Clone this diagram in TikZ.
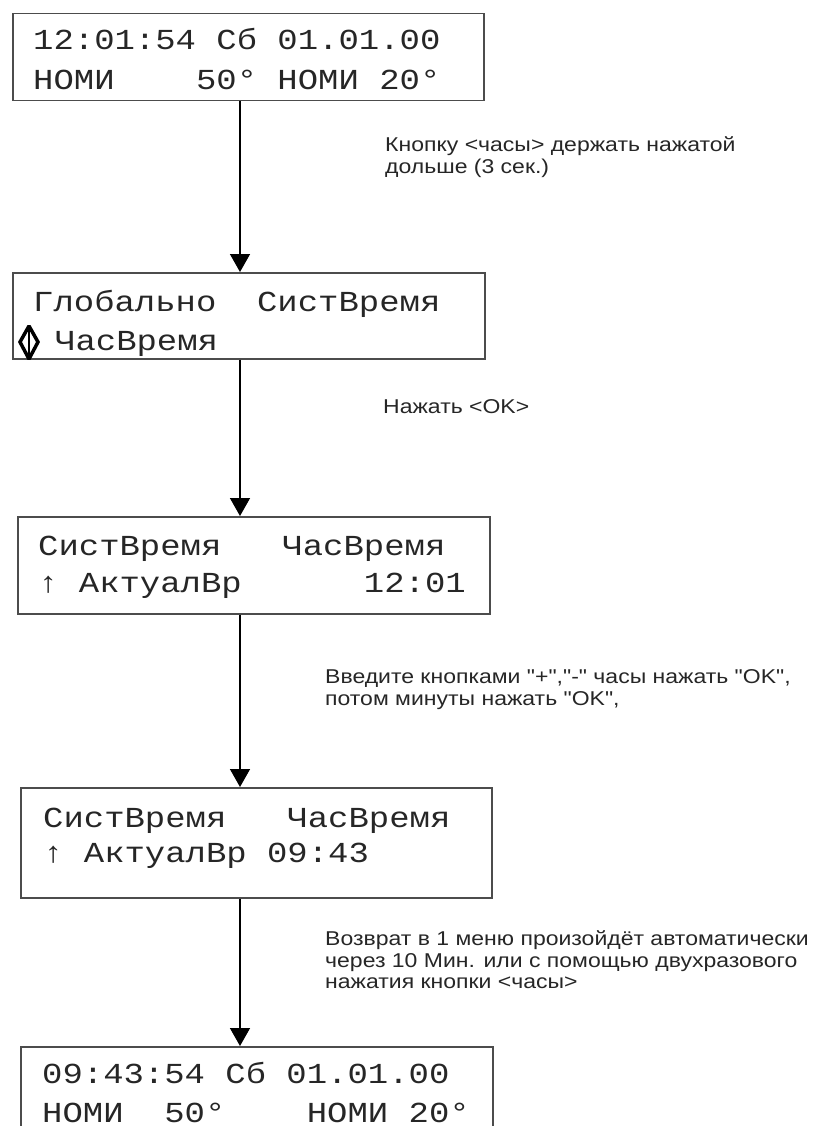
\documentclass[tikz,border=0pt]{standalone}
\usepackage{fontspec}
\usetikzlibrary{arrows.meta, positioning}
\newfontfamily\lcdfont[FakeStretch=1.17]{Liberation Mono}
\newfontfamily\notefont[FakeStretch=1.15]{Liberation Sans}

\begin{document}
\begin{tikzpicture}[x=1pt, y=-1pt,
  screen/.style={draw=black!70, line width=1.5pt, anchor=north west,
    inner sep=0pt},
  lcd/.style={anchor=base west, inner sep=0pt, text=black!85,
    font=\fontsize{29}{34}\selectfont\lcdfont},
  note/.style={anchor=base west, inner sep=0pt, text=black!85,
    font=\fontsize{20}{22}\selectfont\notefont},
  flow/.style={-{Triangle[width=20pt, length=18pt]}, line width=1.5pt}
]
  \useasboundingbox (0,0) rectangle (828,1126);
  \coordinate (ax) at (240,0);

  % Screen 1
  \node[screen, minimum width=471pt, minimum height=87pt] (scr1) at (12,13) {};
  \node[lcd] (s1a) at (33,50) {12:01:54 Сб 01.01.00};
  \node[lcd] (s1b) at (33,90) {НОМИ~~~~50° НОМИ 20°};

  % Screen 2
  \node[screen, minimum width=472pt, minimum height=86pt] (scr2) at (12,272) {};
  \node[lcd] (s2a) at (33,311) {Глобально~~СистВремя};
  \node[lcd] (s2b) at (55,350) {ЧасВремя};
  \draw[line width=3.5pt, line join=miter, miter limit=2] (29,326) -- (38,342)
    -- (29,359) -- (20,342) -- cycle;
  \draw[line width=2pt] (29,328) -- (29,357);

  % Screen 3
  \node[screen, minimum width=472pt, minimum height=97pt] (scr3) at (17,516) {};
  \node[lcd] (s3a) at (38,555) {СистВремя~~~ЧасВремя};
  \node[lcd] (s3b) at (38,592) {↑ АктуалВр~~~~~~12:01};

  % Screen 4
  \node[screen, minimum width=471pt, minimum height=110pt] (scr4) at (20,787) {};
  \node[lcd] (s4a) at (43,827) {СистВремя~~~ЧасВремя};
  \node[lcd] (s4b) at (43,862) {↑ АктуалВр 09:43};

  % Screen 5
  \node[screen, minimum width=472pt, minimum height=120pt] (scr5) at (20,1046) {};
  \node[lcd] (s5a) at (42,1083) {09:43:54 Сб 01.01.00};
  \node[lcd] (s5b) at (42,1122) {НОМИ~~50°~~~~НОМИ 20°};

  % Steps
  \draw[flow] (scr1.south -| ax) -- (scr2.north -| ax);
  \draw[flow] (scr2.south -| ax) -- (scr3.north -| ax);
  \draw[flow] (scr3.south -| ax) -- (scr4.north -| ax);
  \draw[flow] (scr4.south -| ax) -- (scr5.north -| ax);

  % Notes
  \node[note] (n1a) at (385,152) {Кнопку <часы> держать нажатой};
  \node[note] (n1b) at (385,174) {дольше (3 сек.)};
  \node[note] (n2) at (383,413) {Нажать <OK>};
  \node[note] (n3a) at (325,683) {Введите кнопками "+","-" часы нажать "OK",};
  \node[note] (n3b) at (325,705) {потом минуты нажать "OK",};
  \node[note] (n4a) at (325,945) {Возврат в 1 меню произойдёт автоматически};
  \node[note] (n4b) at (325,967) {через 10 Мин. или с помощью двухразового};
  \node[note] (n4c) at (325,988) {нажатия кнопки <часы>};
\end{tikzpicture}
\end{document}
